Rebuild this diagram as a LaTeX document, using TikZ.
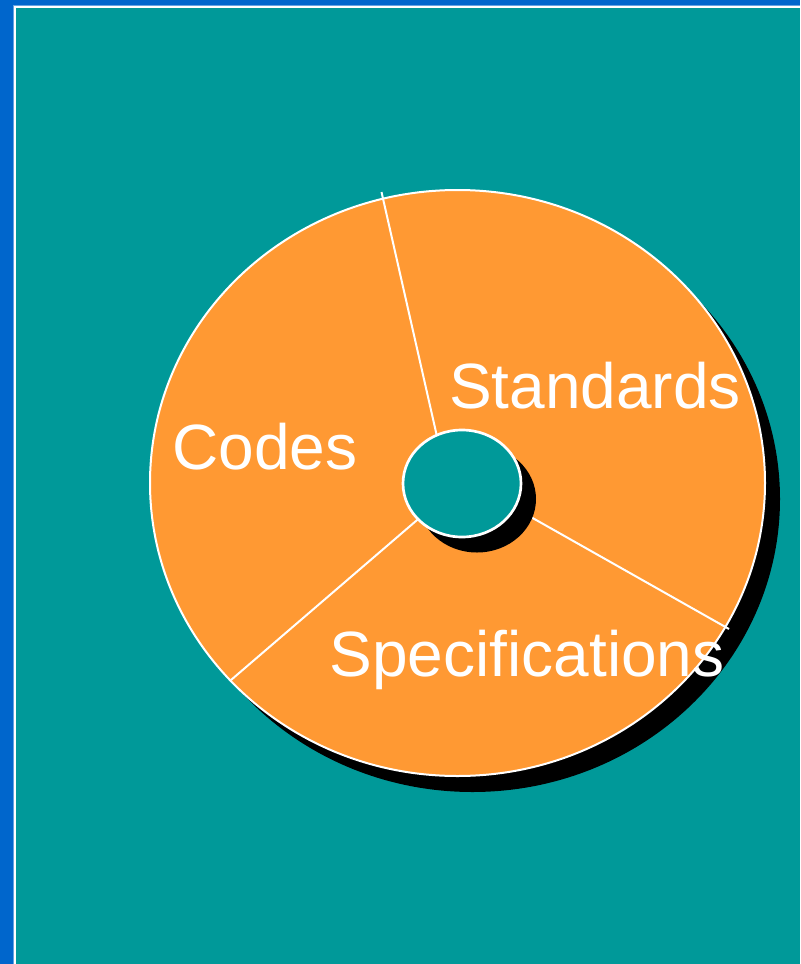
\documentclass[tikz,border=0pt]{standalone}
\usepackage{fontspec}
\setmainfont{Liberation Sans}
\usepackage{tikz}
\usetikzlibrary{positioning,calc}

\definecolor{slideblue}{HTML}{0066CC}
\definecolor{edgeblue}{HTML}{66A3E0}
\definecolor{slideteal}{HTML}{009999}
\definecolor{diskorange}{HTML}{FF9933}

\tikzset{
  divider/.style={draw=white, line width=1.5},
  label/.style={text=white, font=\fontsize{48}{56}\selectfont, inner sep=0pt}
}

\begin{document}
\begin{tikzpicture}[x=0.75pt, y=-0.75pt]
  \useasboundingbox (0,0) rectangle (800,964);

  % Background
  \fill[slideblue] (0,0) rectangle (800,964);
  \fill[edgeblue] (13,5) rectangle (800,964);
  \fill[white] (14,6) rectangle (800,964);
  \fill[slideteal] (16,8) rectangle (800,964);

  % Disk shadow
  \fill[black] (472.5,499) ellipse [x radius=307.5, y radius=293];

  % Disk
  \filldraw[fill=diskorange, draw=white, line width=1.5] (457.5,483) ellipse [x radius=307.5, y radius=293];
  \coordinate (hub) at (462,483.5);

  % Dividers
  \draw[divider] (448,485) -- (381.5,192);
  \draw[divider] (476,486) -- (729,629);
  \draw[divider] (452,490) -- (231,680);

  % Hole
  \fill[black] (477,499) ellipse [x radius=59, y radius=53.5];
  \filldraw[fill=slideteal, draw=white, line width=2] (hub) ellipse [x radius=59, y radius=53.5];

  % Labels
  \node[label] (standards) at (595,386) {Standards};
  \node[label] (codes) at (265,447) {Codes};
  \node[label] (specs) at (527,660) {Specifications};
\end{tikzpicture}
\end{document}
